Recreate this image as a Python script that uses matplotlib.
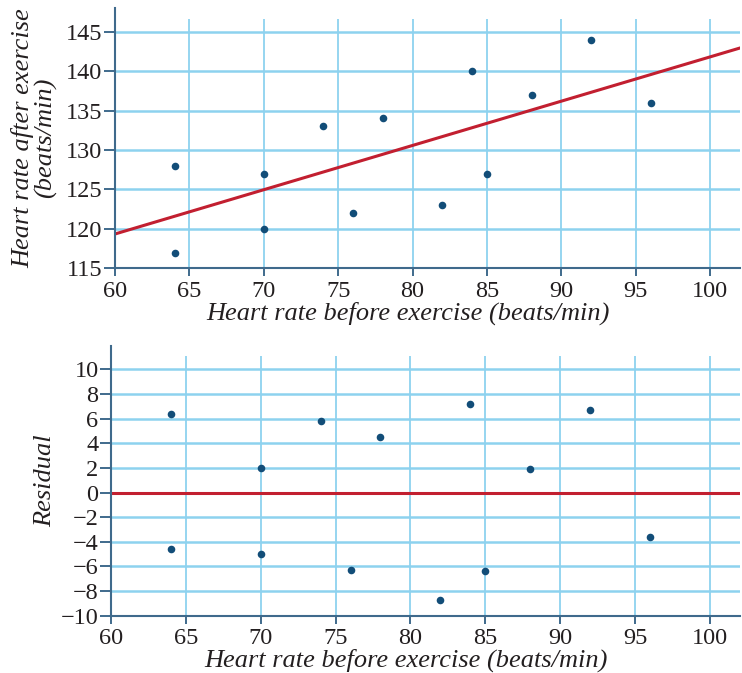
import numpy as np
import matplotlib
matplotlib.use("Agg")
import matplotlib.pyplot as plt

# Heart rate before and after exercise (beats/min)
before = [64, 64, 70, 70, 74, 76, 78, 82, 84, 85, 88, 92, 96]
after = [117, 128, 120, 127, 133, 122, 134, 123, 140, 127, 137, 144, 136]
residuals = [-4.6, 6.4, -5.0, 2.0, 5.8, -6.3, 4.5, -8.7, 7.2, -6.4, 1.9, 6.7, -3.6]

x_ticks = [60, 65, 70, 75, 80, 85, 90, 95, 100]
top_y_ticks = [115, 120, 125, 130, 135, 140, 145]
res_y_ticks = [-10, -8, -6, -4, -2, 0, 2, 4, 6, 8, 10]

GRID = "#8dd2ef"
SPINE = "#3f6a8c"
DOT = "#124d78"
LINE = "#c21f30"
TEXT = "#231f20"

plt.rcParams["font.family"] = ["Liberation Serif", "DejaVu Serif"]
plt.rcParams["axes.unicode_minus"] = True

fig = plt.figure(figsize=(7.42, 6.73), dpi=100)
ax1 = fig.add_axes([0.155, 0.6013, 0.842, 0.3867])
ax2 = fig.add_axes([0.1496, 0.0851, 0.8474, 0.4008])


def style(ax, xlim, ylim, yticks, grid_top):
    ax.set_xlim(*xlim)
    ax.set_ylim(*ylim)
    ax.set_xticks(x_ticks)
    ax.set_yticks(yticks)
    ax.vlines(x_ticks[1:], ylim[0], grid_top, colors=GRID, lw=1.3, zorder=1)
    ax.hlines(yticks[1:], xlim[0], xlim[1], colors=GRID, lw=1.8, zorder=1)
    for s in ("top", "right"):
        ax.spines[s].set_visible(False)
    for s in ("left", "bottom"):
        ax.spines[s].set_color(SPINE)
        ax.spines[s].set_linewidth(1.5)
    ax.tick_params(axis="both", direction="out", color=SPINE, width=1.4,
                   labelsize=17.5, labelcolor=TEXT)
    ax.tick_params(axis="y", length=8, pad=1)
    ax.tick_params(axis="x", length=6, pad=3)
    ax.set_xlabel("Heart rate before exercise (beats/min)", style="italic",
                  fontsize=19, color=TEXT)


# Scatter with least-squares line
style(ax1, (60, 102), (115, 148), top_y_ticks, 146.6)
ax1.xaxis.set_label_coords(0.469, -0.127)
slope, intercept = np.polyfit(before, after, 1)
xs = np.array([60, 102])
ax1.plot(xs, intercept + slope * xs, color=LINE, lw=2.2, zorder=2)
ax1.scatter(before, after, s=30, color=DOT, zorder=3, linewidths=0)
ax1.set_ylabel("Heart rate after exercise\n(beats/min)", style="italic",
               fontsize=19, color=TEXT, linespacing=1.02)
ax1.yaxis.set_label_coords(-0.092, 0.5)

# Residual plot
style(ax2, (60, 102), (-10, 11.9), res_y_ticks, 11.08)
ax2.xaxis.set_label_coords(0.469, -0.12)
ax2.axhline(0, color=LINE, lw=2.2, zorder=2)
ax2.scatter(before, residuals, s=30, color=DOT, zorder=3, linewidths=0)
ax2.set_ylabel("Residual", style="italic", fontsize=19, color=TEXT)
ax2.yaxis.set_label_coords(-0.087, 0.5)

fig.savefig("out.png", dpi=100)
